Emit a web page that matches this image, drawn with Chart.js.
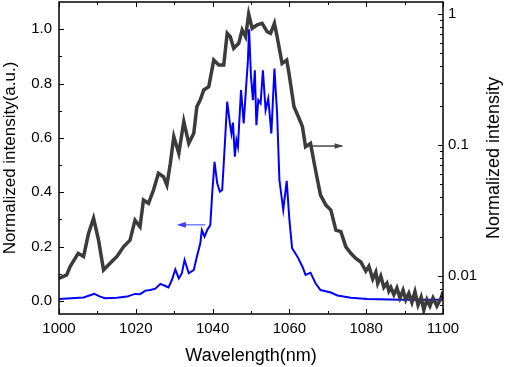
<!DOCTYPE html>
<html>
<head>
<meta charset="utf-8">
<script src="https://cdn.jsdelivr.net/npm/chart.js@4.4.1/dist/chart.umd.min.js"></script>
<style>
  body { margin: 0; background: #fff; }
</style>
</head>
<body>
<canvas id="specChart" width="505" height="367"></canvas>
<script>
// spectrum on linear axis (left), blue
let blueNm = [1000,1006.4,1008.1,1009.2,1010.7,1012.0,1015.1,1017.7,1019.8,1021.1,1022.5,1023.8,1025.1,1026.4,1027.7,1028.5,1029.4,1030.3,1031.2,1032.0,1032.7,1033.8,1035.1,1035.9,1036.8,1037.2,1037.9,1038.6,1039.4,1039.9,1040.5,1041.2,1041.9,1042.5,1043.1,1043.8,1044.5,1044.9,1045.3,1045.8,1046.2,1046.6,1047.4,1048.1,1048.7,1049.2,1049.5,1050.0,1050.5,1051.0,1051.4,1051.9,1052.5,1053.1,1053.8,1054.5,1055.3,1056.1,1056.8,1057.4,1058.4,1059.3,1060.0,1060.7,1062.1,1063.4,1064.2,1065.5,1066.8,1068.1,1070.8,1072.5,1076.0,1080.3,1089.0,1100];
let blueVal = [0.007,0.013,0.021,0.026,0.016,0.010,0.012,0.016,0.026,0.025,0.038,0.040,0.045,0.063,0.055,0.050,0.077,0.116,0.083,0.102,0.151,0.102,0.114,0.163,0.212,0.261,0.237,0.261,0.279,0.396,0.512,0.433,0.402,0.408,0.555,0.733,0.653,0.616,0.656,0.531,0.592,0.567,0.776,0.653,0.782,0.886,1.0,0.825,0.739,0.849,0.647,0.739,0.727,0.849,0.702,0.745,0.616,0.855,0.690,0.445,0.335,0.442,0.298,0.194,0.163,0.126,0.096,0.104,0.065,0.040,0.031,0.020,0.012,0.007,0.004,0.004];

// same spectrum on log axis (right), dark gray
let grayNm = [1000,1002.0,1002.9,1005.0,1006.4,1007.7,1009.0,1010.3,1011.6,1013.3,1015.1,1016.8,1018.5,1019.8,1021.1,1022.0,1023.3,1024.6,1025.9,1027.2,1028.1,1029.0,1029.9,1031.2,1032.5,1033.8,1035.1,1035.9,1036.8,1037.7,1039.0,1040.3,1041.6,1042.9,1043.8,1044.6,1045.5,1046.8,1047.7,1048.6,1049.4,1050.3,1051.6,1052.9,1054.2,1055.1,1056.1,1056.8,1058.1,1059.3,1059.9,1061.2,1062.5,1063.4,1064.2,1065.5,1066.8,1068.1,1069.5,1070.8,1072.1,1073.4,1074.7,1076.0,1077.3,
  1078.6,1079.9,1080.7,1081.7,1082.5,1083.0,1083.8,1084.6,1085.4,1085.9,1086.4,1087.2,1088.0,1088.8,1089.6,1090.3,1091.1,1091.9,1092.7,1093.5,1094.3,1095.0,1095.8,1096.6,1097.4,1098.4,1099.5,1100];
let grayVal = [0.0096,0.0102,0.0118,0.0149,0.0141,0.0212,0.0276,0.0188,0.0111,0.0125,0.0141,0.0167,0.0188,0.0267,0.0238,0.0380,0.0359,0.0453,0.0608,0.0573,0.0495,0.0725,0.116,0.0863,0.151,0.103,0.123,0.196,0.221,0.263,0.279,0.445,0.408,0.408,0.712,0.671,0.547,0.597,0.755,0.671,1.0,0.778,0.825,0.849,0.733,0.712,0.849,0.671,0.420,0.445,0.352,0.196,0.160,0.138,0.0971,0.103,0.0644,0.0415,0.0348,0.0319,0.0224,0.0218,0.0167,0.0149,0.0136,
  0.0128,0.0109,0.0119,0.0095,0.0107,0.0088,0.0100,0.0082,0.0088,0.0077,0.0082,0.0072,0.0081,0.0068,0.0078,0.0066,0.0074,0.0063,0.0076,0.0060,0.0069,0.0055,0.0066,0.0059,0.0068,0.0059,0.0068,0.0076];

let xTicks = [1000, 1020, 1040, 1060, 1080, 1100];
let yTicks = [0.0, 0.2, 0.4, 0.6, 0.8, 1.0];
let logTicks = [0.01, 0.1, 1];
let logLabels = ['0.01', '0.1', '1'];

let font = 'Arial, "Liberation Sans", sans-serif';

function toPts(xs, ys) {
  return xs.map((x, i) => ({ x: x, y: ys[i] }));
}

function arrow(ctx, x1, y1, x2, y2, color, lw, head) {
  ctx.save();
  ctx.strokeStyle = color;
  ctx.fillStyle = color;
  ctx.lineWidth = lw;
  ctx.beginPath();
  ctx.moveTo(x1, y1);
  ctx.lineTo(x2, y2);
  ctx.stroke();
  let dir = x2 > x1 ? 1 : -1;
  ctx.beginPath();
  ctx.moveTo(x2 + dir * 2, y2);
  ctx.lineTo(x2 - dir * head, y2 - head / 2.5);
  ctx.lineTo(x2 - dir * head, y2 + head / 2.5);
  ctx.closePath();
  ctx.fill();
  ctx.restore();
}

function noEdgePad(s) {
  s.paddingTop = 0;
  s.paddingBottom = 0;
  s.paddingLeft = 0;
  s.paddingRight = 0;
}

// frame, inward ticks on all four sides, right title and the two arrows
let framePlugin = {
  id: 'frame',
  afterDraw(chart) {
    let ctx = chart.ctx;
    let a = chart.chartArea;
    let sx = chart.scales.x, sy = chart.scales.y, sl = chart.scales.yLog;
    ctx.save();
    ctx.strokeStyle = '#000';
    ctx.lineWidth = 1.5;
    ctx.strokeRect(a.left, a.top, a.right - a.left, a.bottom - a.top);

    ctx.lineWidth = 1;
    ctx.beginPath();
    for (let v = 1000; v <= 1100; v += 10) {
      let px = Math.round(sx.getPixelForValue(v)) + 0.5;
      let len = (v % 20 === 0) ? 5 : 3;
      ctx.moveTo(px, a.bottom); ctx.lineTo(px, a.bottom - len);
      ctx.moveTo(px, a.top); ctx.lineTo(px, a.top + len);
    }
    for (let k = 0; k <= 10; k++) {
      let py = Math.round(sy.getPixelForValue(k / 10)) + 0.5;
      let len = (k % 2 === 0) ? 5 : 3;
      ctx.moveTo(a.left, py); ctx.lineTo(a.left + len, py);
    }
    [0.001, 0.01, 0.1, 1].forEach(d => {
      for (let m = 1; m <= 9; m++) {
        let v = d * m;
        if (v < sl.min || v > sl.max) continue;
        let py = Math.round(sl.getPixelForValue(v)) + 0.5;
        let len = (m === 1) ? 5 : 3;
        ctx.moveTo(a.right, py); ctx.lineTo(a.right - len, py);
      }
    });
    ctx.stroke();

    // right axis title reads bottom to top like the left one
    ctx.translate(494, (a.top + a.bottom) / 2);
    ctx.rotate(-Math.PI / 2);
    ctx.fillStyle = '#000';
    ctx.font = '18px ' + font;
    ctx.textAlign = 'center';
    ctx.textBaseline = 'middle';
    ctx.fillText('Normalized intensity', 0, 0);
    ctx.restore();

    // arrows pointing to each curve's axis
    let by = sy.getPixelForValue(0.28);
    arrow(ctx, sx.getPixelForValue(1038.1), by, sx.getPixelForValue(1031.2), by, '#3c3cff', 1, 7);
    let gy = sy.getPixelForValue(0.57);
    arrow(ctx, sx.getPixelForValue(1065.8), gy, sx.getPixelForValue(1073.6), gy, '#444', 1.5, 7);
  }
};

let ctx = document.getElementById('specChart').getContext('2d');
let chart = new Chart(ctx, {
  type: 'line',
  data: {
    datasets: [{
      label: 'log',
      data: toPts(grayNm, grayVal),
      yAxisID: 'yLog',
      borderColor: '#3b3b3b',
      borderWidth: 3.5,
      pointRadius: 0,
      tension: 0
    }, {
      label: 'linear',
      data: toPts(blueNm, blueVal),
      yAxisID: 'y',
      borderColor: '#0000ff',
      borderWidth: 2,
      pointRadius: 0,
      tension: 0
    }]
  },
  options: {
    responsive: false,
    animation: false,
    layout: { padding: { top: 2, left: 0, right: 0, bottom: 0 } },
    plugins: {
      legend: { display: false },
      tooltip: { enabled: false }
    },
    scales: {
      x: {
        type: 'linear',
        min: 1000,
        max: 1100,
        afterBuildTicks: s => { s.ticks = xTicks.map(v => ({ value: v })); },
        afterFit: s => { s.height = 53; noEdgePad(s); },
        ticks: { color: '#000', padding: 6, maxRotation: 0, font: { family: font, size: 15 }, callback: v => String(v) },
        grid: { display: false, drawTicks: false },
        border: { display: false },
        title: { display: true, text: 'Wavelength(nm)', color: '#000', padding: 0, font: { family: font, size: 18 } }
      },
      y: {
        type: 'linear',
        position: 'left',
        min: -0.048,
        max: 1.1,
        afterBuildTicks: s => { s.ticks = yTicks.map(v => ({ value: v })); },
        afterFit: s => { s.width = 59; noEdgePad(s); },
        ticks: { color: '#000', padding: 7, font: { family: font, size: 15 }, callback: v => v.toFixed(1) },
        grid: { display: false, drawTicks: false },
        border: { display: false },
        title: { display: true, text: 'Normalized intensity(a.u.)', color: '#000', padding: 0, font: { family: font, size: 17 } }
      },
      yLog: {
        type: 'logarithmic',
        position: 'right',
        min: 0.00513,
        max: 1.235,
        afterBuildTicks: s => { s.ticks = logTicks.map(v => ({ value: v })); },
        afterFit: s => { s.width = 62; noEdgePad(s); },
        ticks: { color: '#000', padding: 5, font: { family: font, size: 15 }, callback: (v, i) => logLabels[i] },
        grid: { display: false, drawTicks: false },
        border: { display: false },
        title: { display: false }
      }
    }
  },
  plugins: [framePlugin]
});
</script>
</body>
</html>
